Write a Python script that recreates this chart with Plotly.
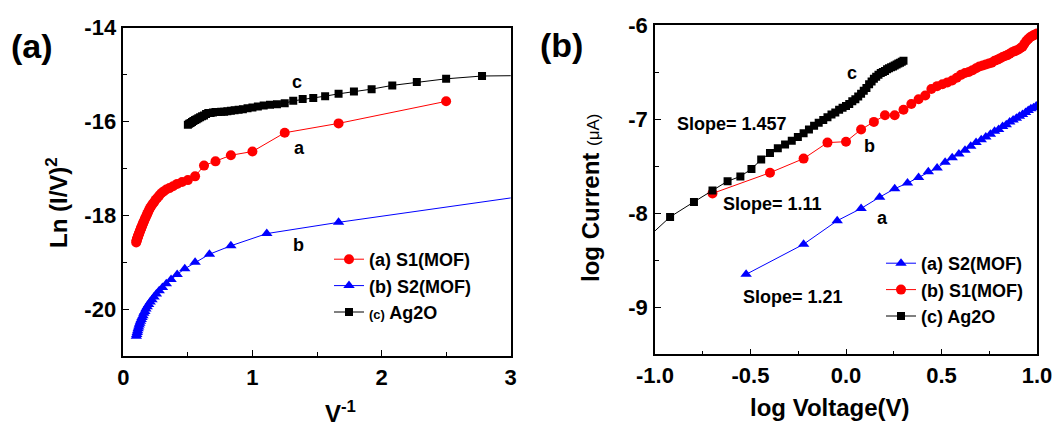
import plotly.graph_objects as go

# ---------------- Panel (a): Ln(I/V^2) vs V^-1 ----------------
a_s1_x = [2.5, 1.667, 1.25, 1.0, 0.833, 0.714, 0.625, 0.556, 0.5, 0.455, 0.417, 0.385, 0.357, 0.333,
          0.3125, 0.294, 0.278, 0.263, 0.25, 0.238, 0.227, 0.217, 0.208, 0.2, 0.192, 0.185, 0.179,
          0.172, 0.167, 0.161, 0.156, 0.152, 0.147, 0.143, 0.139, 0.135, 0.132, 0.128, 0.125, 0.122,
          0.119, 0.116, 0.114, 0.111, 0.109, 0.106, 0.104, 0.102, 0.1]
a_s1_y = [-15.57, -16.04, -16.24, -16.64, -16.72, -16.85, -16.94, -17.17, -17.25, -17.29, -17.33,
          -17.38, -17.42, -17.45, -17.49, -17.53, -17.58, -17.63, -17.67, -17.72, -17.76, -17.80,
          -17.84, -17.88, -17.93, -17.97, -18.01, -18.05, -18.08, -18.12, -18.15, -18.18, -18.21,
          -18.24, -18.27, -18.29, -18.32, -18.34, -18.37, -18.39, -18.41, -18.43, -18.45, -18.47,
          -18.49, -18.51, -18.53, -18.55, -18.58]

a_s2_x = [3.333, 1.667, 1.111, 0.833, 0.667, 0.556, 0.476, 0.417, 0.370, 0.333, 0.303, 0.278, 0.256,
          0.238, 0.222, 0.208, 0.196, 0.185, 0.175, 0.167, 0.159, 0.152, 0.145, 0.139, 0.133, 0.128,
          0.123, 0.119, 0.115, 0.111, 0.108, 0.104, 0.101]
a_s2_y = [-17.50, -18.15, -18.39, -18.65, -18.83, -19.00, -19.14, -19.26, -19.37, -19.46, -19.54,
          -19.61, -19.68, -19.74, -19.80, -19.85, -19.90, -19.95, -20.00, -20.05, -20.09, -20.14,
          -20.18, -20.22, -20.26, -20.30, -20.34, -20.38, -20.42, -20.46, -20.50, -20.54, -20.58]

a_ag_x = [3.125, 2.778, 2.5, 2.273, 2.083, 1.923, 1.786, 1.667, 1.563, 1.471, 1.389, 1.316, 1.25,
          1.19, 1.136, 1.087, 1.042, 1.0, 0.962, 0.926, 0.893, 0.862, 0.833, 0.806, 0.781, 0.758,
          0.735, 0.714, 0.694, 0.676, 0.658, 0.641, 0.625, 0.61, 0.595, 0.581, 0.568, 0.556, 0.543,
          0.532, 0.521, 0.51, 0.5]
a_ag_y = [-15.02, -15.03, -15.09, -15.16, -15.23, -15.31, -15.36, -15.41, -15.46, -15.50, -15.52,
          -15.56, -15.61, -15.63, -15.645, -15.66, -15.68, -15.70, -15.72, -15.74, -15.75, -15.76,
          -15.77, -15.78, -15.79, -15.79, -15.80, -15.80, -15.81, -15.82, -15.82, -15.84, -15.87,
          -15.89, -15.91, -15.93, -15.95, -15.97, -15.99, -16.01, -16.03, -16.05, -16.07]

a_xticks = [0, 1, 2, 3]
a_xtext = ["0", "1", "2", "3"]
a_yticks = [-14, -16, -18, -20]
a_ytext = ["-14", "-16", "-18", "-20"]

# ---------------- Panel (b): log Current vs log Voltage ----------------
b_s2_x = [-0.523, -0.222, -0.046, 0.079, 0.176, 0.255, 0.322, 0.380, 0.431, 0.477, 0.519, 0.556,
          0.591, 0.623, 0.653, 0.681, 0.708, 0.732, 0.756, 0.778, 0.799, 0.820, 0.839, 0.857, 0.875,
          0.892, 0.908, 0.924, 0.940, 0.954, 0.968, 0.982, 0.996]
b_s2_y = [-8.65, -8.33, -8.08, -7.95, -7.83, -7.74, -7.68, -7.62, -7.56, -7.52, -7.46, -7.41, -7.37,
          -7.33, -7.29, -7.25, -7.22, -7.19, -7.16, -7.13, -7.11, -7.08, -7.06, -7.03, -7.01, -6.99,
          -6.97, -6.95, -6.93, -6.91, -6.89, -6.88, -6.86]

b_s1_x = [-0.699, -0.398, -0.222, -0.097, 0.0, 0.079, 0.146, 0.204, 0.255, 0.301, 0.342, 0.380,
          0.415, 0.447, 0.477, 0.505, 0.531, 0.556, 0.580, 0.602, 0.623, 0.643, 0.663, 0.681, 0.699,
          0.716, 0.732, 0.748, 0.763, 0.778, 0.792, 0.806, 0.820, 0.833, 0.845, 0.857, 0.869, 0.881,
          0.892, 0.903, 0.914, 0.924, 0.934, 0.944, 0.954, 0.964, 0.973, 0.982, 0.991, 1.0]
b_s1_y = [-7.79, -7.57, -7.42, -7.25, -7.24, -7.11, -7.03, -6.96, -6.96, -6.90, -6.84, -6.79, -6.75,
          -6.68, -6.65, -6.63, -6.61, -6.59, -6.56, -6.53, -6.51, -6.50, -6.48, -6.46, -6.44, -6.43,
          -6.42, -6.41, -6.40, -6.38, -6.37, -6.355, -6.34, -6.33, -6.32, -6.305, -6.29, -6.28,
          -6.27, -6.26, -6.245, -6.23, -6.20, -6.17, -6.15, -6.13, -6.12, -6.11, -6.10, -6.09]

b_ag_x = [-1.097, -0.921, -0.796, -0.699, -0.620, -0.553, -0.495, -0.444, -0.398, -0.357, -0.319,
          -0.284, -0.252, -0.222, -0.194, -0.167, -0.143, -0.119, -0.097, -0.076, -0.056, -0.036,
          -0.018, 0.0, 0.017, 0.033, 0.049, 0.064, 0.079, 0.093, 0.107, 0.121, 0.134, 0.146, 0.158,
          0.170, 0.182, 0.193, 0.204, 0.215, 0.225, 0.236, 0.246, 0.255, 0.265, 0.274, 0.283, 0.292,
          0.301]
b_ag_y = [-8.37, -8.04, -7.88, -7.76, -7.66, -7.61, -7.53, -7.43, -7.36, -7.31, -7.27, -7.23, -7.19,
          -7.15, -7.11, -7.07, -7.04, -7.01, -6.98, -6.95, -6.93, -6.90, -6.88, -6.86, -6.84, -6.81,
          -6.79, -6.76, -6.73, -6.70, -6.67, -6.63, -6.60, -6.57, -6.55, -6.53, -6.51, -6.50, -6.49,
          -6.47, -6.46, -6.45, -6.44, -6.43, -6.42, -6.41, -6.40, -6.39, -6.38]

b_xticks = [-1.0, -0.5, 0.0, 0.5, 1.0]
b_xtext = ["-1.0", "-0.5", "0.0", "0.5", "1.0"]
b_yticks = [-6, -7, -8, -9]
b_ytext = ["-6", "-7", "-8", "-9"]

FONT = "Arial, 'Liberation Sans', sans-serif"
RED = "#ff0000"
BLUE = "#0000ff"
BLACK = "#000000"
W, H = 1057, 433

fig = go.Figure()

def add(x, y, name, color, symbol, size, xa, ya, legend, lw=1):
    fig.add_trace(go.Scatter(
        x=x, y=y, mode="lines+markers", name=name,
        line=dict(color=color, width=lw),
        marker=dict(color=color, symbol=symbol, size=size, line=dict(width=0)),
        xaxis=xa, yaxis=ya, legend=legend))

add(a_s1_x, a_s1_y, "(a) S1(MOF)", RED, "circle", 10, "x", "y", "legend")
add(a_s2_x, a_s2_y, "(b) S2(MOF)", BLUE, "triangle-up", 10, "x", "y", "legend")
add(a_ag_x, a_ag_y, "<span style='font-size:13px'>(c)</span> Ag2O", BLACK, "square", 8, "x", "y", "legend")

add(b_s2_x, b_s2_y, "(a) S2(MOF)", BLUE, "triangle-up", 10, "x2", "y2", "legend2")
add(b_s1_x, b_s1_y, "(b) S1(MOF)", RED, "circle", 10, "x2", "y2", "legend2")
add(b_ag_x, b_ag_y, "(c) Ag2O", BLACK, "square", 8, "x2", "y2", "legend2")

tickfont = dict(family=FONT, size=22, color="black", weight="bold")

def axis(domain, rng, tv, tt, minor_dtick, anchor, standoff):
    return dict(domain=domain, range=rng, anchor=anchor, automargin=False,
                tickmode="array", tickvals=tv, ticktext=tt,
                showline=True, linecolor="black", linewidth=1.5, mirror=True,
                ticks="inside", ticklen=6, tickwidth=1.2, tickcolor="black",
                minor=dict(ticks="inside", ticklen=4, tickwidth=1, tickcolor="black",
                           dtick=minor_dtick, tick0=0, showgrid=False),
                showgrid=False, zeroline=False, tickfont=tickfont,
                ticklabelstandoff=standoff)

def px(v):
    return v / W

def py(v):
    return 1 - v / H

fig.update_layout(
    width=W, height=H,
    margin=dict(l=0, r=0, t=0, b=0, autoexpand=False),
    paper_bgcolor="white", plot_bgcolor="white",
    xaxis=axis([px(123.3), px(510.7)], [0, 3], a_xticks, a_xtext, 0.5, "y", 1),
    yaxis=axis([py(356), py(27.7)], [-21, -14], a_yticks, a_ytext, 1, "x", 1),
    xaxis2=axis([px(655), px(1037)], [-1, 1], b_xticks, b_xtext, 0.25, "y2", 1),
    yaxis2=axis([py(354.3), py(25)], [-9.5, -6], b_yticks, b_ytext, 0.5, "x2", 1),
    legend=dict(x=px(329), y=py(241), xanchor="left", yanchor="top",
                bgcolor="rgba(0,0,0,0)", borderwidth=0,
                font=dict(family=FONT, size=18, color="black", weight="bold"),
                itemwidth=30, tracegroupgap=0),
    legend2=dict(x=px(881), y=py(245), xanchor="left", yanchor="top",
                 bgcolor="rgba(0,0,0,0)", borderwidth=0,
                 font=dict(family=FONT, size=18, color="black", weight="bold"),
                 itemwidth=30, tracegroupgap=0),
    showlegend=True,
)

def note(x, y, text, size, angle=0):
    fig.add_annotation(x=px(x), y=py(y), xref="paper", yref="paper", text=text,
                       showarrow=False, textangle=angle, xanchor="center", yanchor="middle",
                       font=dict(family=FONT, size=size, color="black", weight="bold"))

# panel labels
note(32, 46, "(a)", 34)
note(561, 45, "(b)", 34)
# axis titles
note(57, 203, "Ln (I/V)<sup>2</sup>", 24, -90)
note(340, 412, "V<sup>-1</sup>", 24)
note(590, 198, "log Current <span style='font-size:17px;font-weight:normal'>(\u03bcA)</span>", 24, -90)
note(830, 407, "log Voltage(V)", 24)
# curve letters
note(297, 82, "c", 18)
note(299, 148, "a", 18)
note(298, 245, "b", 18)
note(852, 73, "c", 18)
note(869, 146, "b", 18)
note(882, 218, "a", 18)
# slopes
note(732, 124, "Slope= 1.457", 18)
note(772, 204, "Slope= 1.11", 18)
note(793, 297, "Slope= 1.21", 18)

fig.write_html("out.html")
